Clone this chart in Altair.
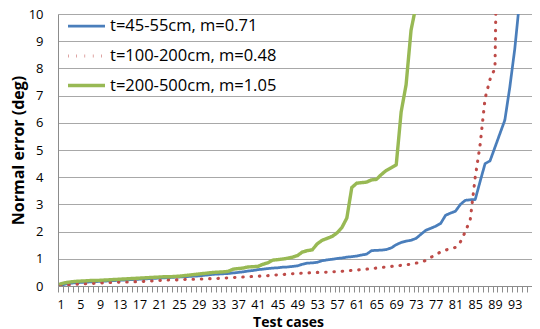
import altair as alt
import pandas as pd

series_names = ["t=45-55cm, m=0.71", "t=100-200cm, m=0.48", "t=200-500cm, m=1.05"]
series_colors = ["#4A7EBB", "#BE4B48", "#98B954"]

# values per test case (case 1, 2, 3, ...)
blue_vals = [
    0.03, 0.07, 0.10, 0.12, 0.13, 0.14, 0.15, 0.16, 0.17, 0.18,
    0.19, 0.20, 0.21, 0.22, 0.23, 0.24, 0.25, 0.26, 0.27, 0.28,
    0.29, 0.30, 0.31, 0.32, 0.33, 0.34, 0.35, 0.36, 0.37, 0.39,
    0.41, 0.43, 0.44, 0.45, 0.46, 0.48, 0.50, 0.52, 0.55, 0.57,
    0.60, 0.62, 0.64, 0.66, 0.67, 0.69, 0.70, 0.72, 0.74, 0.80,
    0.84, 0.85, 0.87, 0.93, 0.96, 0.98, 1.01, 1.03, 1.06, 1.08,
    1.10, 1.14, 1.17, 1.30, 1.31, 1.32, 1.34, 1.40, 1.52, 1.60,
    1.65, 1.68, 1.75, 1.90, 2.05, 2.12, 2.20, 2.30, 2.60, 2.68,
    2.75, 3.00, 3.15, 3.17, 3.18, 3.85, 4.50, 4.60, 5.10, 5.60,
    6.10, 7.30, 8.70, 10.5,
]
red_vals = [
    0.00, 0.03, 0.05, 0.06, 0.07, 0.08, 0.09, 0.10, 0.11, 0.12,
    0.13, 0.13, 0.14, 0.15, 0.15, 0.16, 0.16, 0.17, 0.18, 0.19,
    0.20, 0.21, 0.22, 0.22, 0.23, 0.24, 0.25, 0.25, 0.26, 0.26,
    0.27, 0.27, 0.28, 0.29, 0.30, 0.31, 0.32, 0.33, 0.34, 0.35,
    0.36, 0.37, 0.38, 0.40, 0.41, 0.42, 0.44, 0.45, 0.46, 0.47,
    0.48, 0.49, 0.50, 0.50, 0.51, 0.52, 0.53, 0.54, 0.56, 0.57,
    0.59, 0.60, 0.62, 0.64, 0.66, 0.68, 0.70, 0.72, 0.74, 0.76,
    0.78, 0.80, 0.84, 0.88, 0.94, 1.05, 1.15, 1.25, 1.32, 1.37,
    1.42, 1.62, 2.00, 2.45, 4.00, 5.20, 6.90, 7.60, 8.00, 20.0,
]
green_vals = [
    0.08, 0.12, 0.15, 0.17, 0.18, 0.19, 0.20, 0.20, 0.21, 0.22,
    0.23, 0.24, 0.25, 0.26, 0.27, 0.28, 0.29, 0.30, 0.31, 0.32,
    0.33, 0.34, 0.34, 0.35, 0.36, 0.38, 0.40, 0.42, 0.44, 0.46,
    0.48, 0.50, 0.51, 0.52, 0.54, 0.62, 0.64, 0.66, 0.70, 0.71,
    0.72, 0.80, 0.85, 0.95, 0.97, 0.99, 1.02, 1.06, 1.12, 1.25,
    1.30, 1.33, 1.55, 1.68, 1.75, 1.82, 1.95, 2.15, 2.50, 3.62,
    3.78, 3.80, 3.82, 3.90, 3.92, 4.10, 4.25, 4.35, 4.45, 6.40,
    7.40, 9.40, 10.3,
]

n_cases = 96
x_label_cases = [1, 5, 9, 13, 17, 21, 25, 29, 33, 37, 41, 45, 49, 53, 57, 61, 65, 69, 73, 77, 81, 85, 89, 93]
y_ticks = [0, 1, 2, 3, 4, 5, 6, 7, 8, 9, 10]

rows = []
for name, vals in zip(series_names, [blue_vals, red_vals, green_vals]):
    for i, v in enumerate(vals, start=1):
        rows.append({"case": i, "value": v, "series": name})
df = pd.DataFrame(rows)

# category boundaries for the tick marks (Excel category axis)
boundaries = [i + 0.5 for i in range(0, n_cases + 1)]
label_set = ",".join(str(c) for c in x_label_cases)

W, H = 474, 272
band = W / n_cases

FONT = "Open Sans"
GRID = "#A8A8A8"
AXIS = "#8C8C8C"

legend = alt.Legend(
    orient="none", legendX=8, legendY=-8, title=None,
    symbolType="stroke", symbolSize=1369,
    labelFont=FONT, labelFontSize=16.5, labelColor="#000000",
    rowPadding=0.5, padding=0, labelOffset=3, labelLimit=300,
)

chart = alt.Chart(df).mark_line(
    clip=True, strokeCap="round", strokeJoin="round"
).encode(
    x=alt.X(
        "case:Q",
        scale=alt.Scale(domain=[0.5, n_cases + 0.5], nice=False, zero=False),
        axis=alt.Axis(
            values=boundaries,
            labelExpr=f"indexof([{label_set}], datum.value + 0.5) >= 0 ? format(datum.value + 0.5, 'd') : ''",
            labelOffset=band / 2, labelOverlap=False, labelFlush=False,
            labelFont=FONT, labelFontSize=12.5, labelColor="#000000", labelPadding=6,
            tickSize=6, tickColor=AXIS, domainColor=AXIS, grid=False,
            title="Test cases", titleFont=FONT, titleFontSize=14, titleFontWeight="bold",
            titleColor="#000000", titleX=230, titleY=40, titleBaseline="alphabetic",
            titleAlign="center",
        ),
    ),
    y=alt.Y(
        "value:Q",
        scale=alt.Scale(domain=[0, 10], nice=False, zero=True),
        axis=alt.Axis(
            values=y_ticks, grid=True, gridColor=GRID, gridWidth=1,
            ticks=False, tickSize=0, domainColor=AXIS,
            labelFont=FONT, labelFontSize=13, labelColor="#000000", labelPadding=15,
            title="Normal error (deg)", titleFont=FONT, titleFontSize=16,
            titleFontWeight="bold", titleColor="#000000",
            titleX=-35, titleY=H / 2, titleBaseline="alphabetic", titleAlign="center",
            titleAngle=270,
        ),
    ),
    color=alt.Color("series:N", scale=alt.Scale(domain=series_names, range=series_colors), legend=legend),
    strokeDash=alt.StrokeDash(
        "series:N",
        scale=alt.Scale(domain=series_names, range=[[1, 0], [0.5, 7.8], [1, 0]]),
        legend=legend,
    ),
    strokeWidth=alt.StrokeWidth(
        "series:N",
        scale=alt.Scale(domain=series_names, range=[2.75, 3.4, 2.75]),
        legend=legend,
    ),
).properties(
    width=W, height=H,
    autosize=alt.AutoSizeParams(type="none"),
    padding={"left": 50, "top": 6, "right": 0, "bottom": 43},
).configure_view(stroke=None).configure(background="white")

chart.save("out.html", embed_options={"renderer": "svg", "actions": False})
